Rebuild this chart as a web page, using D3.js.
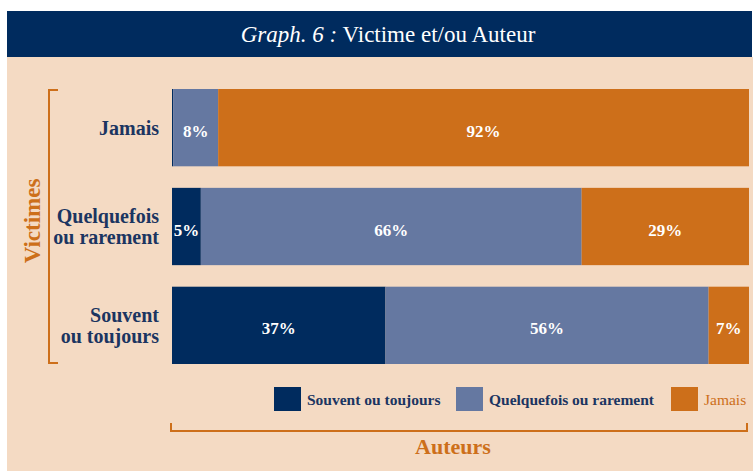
<!DOCTYPE html>
<html>
<head>
<meta charset="utf-8">
<script src="https://cdn.jsdelivr.net/npm/d3@7"></script>
<style>
  body { margin: 0; background: #fff; }
  svg text { font-family: "Liberation Serif", "DejaVu Serif", serif; }
</style>
</head>
<body>
<div id="chart"></div>
<script>
// Data (percent of each "Victimes" group, split by "Auteurs")
const victimes = ["Jamais", "Quelquefois ou rarement", "Souvent ou toujours"];
const victimeLines = [["Jamais"], ["Quelquefois", "ou rarement"], ["Souvent", "ou toujours"]];
const auteurs = ["Souvent ou toujours", "Quelquefois ou rarement", "Jamais"];
const souvent = [0.2, 5, 37];
const quelquefois = [7.8, 66, 56];
const jamais = [92, 29, 7];

const colors = ["#002b5e", "#6578a1", "#cd6f1a"];
const beige = "#f4dac3";
const orange = "#cd6f1a";
const navyText = "#1b3561";

const W = 753, H = 471;
const svg = d3.select('#chart').append('svg')
    .attr('width', W)
    .attr('height', H);

// background panel + title band
svg.append('rect').attr('x', 7).attr('y', 57).attr('width', W - 7).attr('height', H - 57).attr('fill', beige);
svg.append('rect').attr('x', 7).attr('y', 11).attr('width', W - 8).attr('height', 46).attr('fill', '#002b5e');

const title = svg.append('text')
    .attr('x', 388).attr('y', 42)
    .attr('text-anchor', 'middle')
    .attr('fill', '#fff')
    .style('font-size', '23px');
title.append('tspan').style('font-style', 'italic').text('Graph. 6 :');
title.append('tspan').text(' Victime et/ou Auteur');

// build table for stacking
const table = victimes.map((v, i) => ({
    victime: v,
    "Souvent ou toujours": souvent[i],
    "Quelquefois ou rarement": quelquefois[i],
    "Jamais": jamais[i]
}));
const series = d3.stack().keys(auteurs)(table);

const x = d3.scaleLinear().domain([0, 100]).range([172, 749]);
const y = d3.scaleBand().domain(victimes).range([89, 364]).paddingInner(0.218);
const color = d3.scaleOrdinal().domain(auteurs).range(colors);

const layers = svg.append('g').selectAll('g')
    .data(series)
    .enter().append('g')
    .attr('fill', d => color(d.key));

layers.selectAll('rect')
    .data(d => d)
    .enter().append('rect')
    .attr('x', d => x(d[0]))
    .attr('y', d => y(d.data.victime))
    .attr('width', d => x(d[1]) - x(d[0]))
    .attr('height', y.bandwidth());

// value labels
layers.selectAll('text')
    .data(d => d.filter(s => s[1] - s[0] >= 2))
    .enter().append('text')
    .attr('x', d => (x(d[0]) + x(d[1])) / 2)
    .attr('y', d => y(d.data.victime) + y.bandwidth() / 2 + 9)
    .attr('text-anchor', 'middle')
    .attr('fill', '#fff')
    .style('font-size', '17px')
    .style('font-weight', 'bold')
    .text(d => Math.round(d[1] - d[0]) + '%');

// category labels
victimes.forEach((v, i) => {
    const lines = victimeLines[i];
    const cy = y(v) + y.bandwidth() / 2;
    const t = svg.append('text')
        .attr('text-anchor', 'end')
        .attr('fill', navyText)
        .style('font-size', '20px')
        .style('font-weight', 'bold');
    lines.forEach((l, j) => {
        t.append('tspan')
            .attr('x', 159)
            .attr('y', cy + 7 + (j - (lines.length - 1) / 2) * 21)
            .text(l);
    });
});

// left bracket "Victimes"
svg.append('path')
    .attr('d', 'M58,90 H49 V363 H58')
    .attr('fill', 'none').attr('stroke', orange).attr('stroke-width', 2);
svg.append('text')
    .attr('transform', 'translate(40,221) rotate(-90)')
    .attr('text-anchor', 'middle')
    .attr('fill', orange)
    .style('font-size', '23px')
    .style('font-weight', 'bold')
    .text('Victimes');

// bottom bracket "Auteurs"
svg.append('path')
    .attr('d', 'M171,423 V431 H747 V423')
    .attr('fill', 'none').attr('stroke', orange).attr('stroke-width', 2);
svg.append('text')
    .attr('x', 453).attr('y', 454)
    .attr('text-anchor', 'middle')
    .attr('fill', orange)
    .style('font-size', '22px')
    .style('font-weight', 'bold')
    .text('Auteurs');

// legend
const legendX = [274, 456, 671];
const legend = svg.append('g').selectAll('g')
    .data(auteurs)
    .enter().append('g')
    .attr('transform', (d, i) => `translate(${legendX[i]},387)`);
legend.append('rect')
    .attr('width', 27).attr('height', 24)
    .attr('fill', d => color(d));
legend.append('text')
    .attr('x', 33).attr('y', 18)
    .attr('fill', d => d === 'Jamais' ? orange : navyText)
    .style('font-size', '15.5px')
    .style('font-weight', d => d === 'Jamais' ? 'normal' : 'bold')
    .text(d => d);
</script>
</body>
</html>
